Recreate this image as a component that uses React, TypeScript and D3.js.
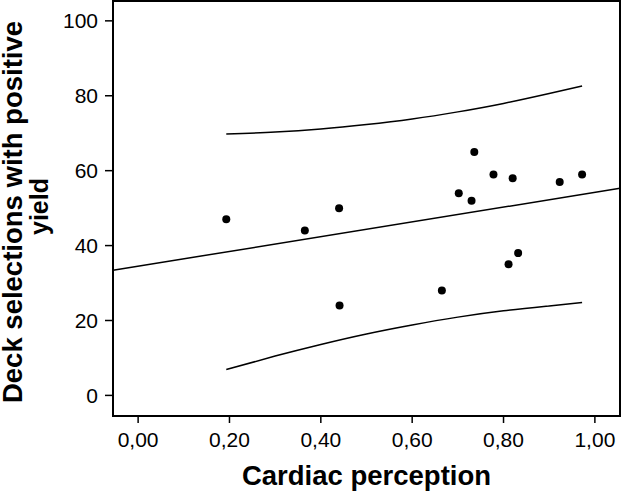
import React from "react";
import * as d3 from "d3";

const cardiac = [0.193, 0.365, 0.44, 0.441, 0.665, 0.702, 0.73, 0.736, 0.778, 0.811, 0.82, 0.832, 0.923, 0.972];
const deckSelections = [47, 44, 50, 24, 28, 54, 52, 65, 59, 35, 58, 38, 57, 59];

const fitIntercept = 34.5;
const fitSlope = 19.7;

const bandX = [0.193, 0.3, 0.4, 0.5, 0.6, 0.7, 0.8, 0.9, 0.972];
const bandUpper = [69.8, 70.3, 71.1, 72.3, 73.8, 75.7, 77.95, 80.6, 82.6];
const bandLower = [6.9, 10.5, 13.6, 16.4, 18.8, 20.9, 22.6, 23.9, 24.8];

const xTicks = [0, 0.2, 0.4, 0.6, 0.8, 1.0];
const xTickLabels = ["0,00", "0,20", "0,40", "0,60", "0,80", "1,00"];
const yTicks = [0, 20, 40, 60, 80, 100];

const xTitle = "Cardiac perception";
const yTitleLines = ["Deck selections with positive", "yield"];

const W = 622;
const H = 492;
const left = 113;
const right = 620;
const top = 1;
const bottom = 416;

export default function App() {
  const x = d3.scaleLinear().domain([-0.055, 1.055]).range([left, right]);
  const y = d3.scaleLinear().domain([-5.5, 105.3]).range([bottom, top]);
  const font = "'Liberation Sans', Arial, Helvetica, sans-serif";

  const bandLine = d3
    .line<[number, number]>()
    .x((d) => x(d[0]))
    .y((d) => y(d[1]))
    .curve(d3.curveNatural);

  const upperPath = bandLine(bandX.map((v, i) => [v, bandUpper[i]] as [number, number])) || "";
  const lowerPath = bandLine(bandX.map((v, i) => [v, bandLower[i]] as [number, number])) || "";

  const [x0, x1] = x.domain();

  return (
    <svg
      width={W}
      height={H}
      style={{ position: "absolute", left: 0, top: 0, background: "#fff" }}
      fontFamily={font}
    >
      <rect x={0} y={0} width={W} height={H} fill="#fff" />
      <rect
        x={left}
        y={top}
        width={right - left}
        height={bottom - top}
        fill="none"
        stroke="#000"
        strokeWidth={2}
      />
      {yTicks.map((t) => (
        <g key={"y" + t}>
          <line x1={left - 8} x2={left} y1={y(t)} y2={y(t)} stroke="#000" strokeWidth={1.5} />
          <text x={left - 15} y={y(t)} dy="0.36em" textAnchor="end" fontSize={21} fill="#000">
            {t}
          </text>
        </g>
      ))}
      {xTicks.map((t, i) => (
        <g key={"x" + t}>
          <line x1={x(t)} x2={x(t)} y1={bottom} y2={bottom + 7} stroke="#000" strokeWidth={1.5} />
          <text x={x(t)} y={447} textAnchor="middle" fontSize={21} fill="#000">
            {xTickLabels[i]}
          </text>
        </g>
      ))}
      <line
        x1={x(x0)}
        y1={y(fitIntercept + fitSlope * x0)}
        x2={x(x1)}
        y2={y(fitIntercept + fitSlope * x1)}
        stroke="#000"
        strokeWidth={1.5}
      />
      <path d={upperPath} fill="none" stroke="#000" strokeWidth={1.5} />
      <path d={lowerPath} fill="none" stroke="#000" strokeWidth={1.5} />
      {cardiac.map((c, i) => (
        <circle key={"p" + i} cx={x(c)} cy={y(deckSelections[i])} r={4} fill="#000" />
      ))}
      <text
        x={(left + right) / 2}
        y={485}
        textAnchor="middle"
        fontSize={27.5}
        fontWeight="bold"
        fill="#000"
      >
        {xTitle}
      </text>
      <g transform={`translate(22, 212) rotate(-90)`}>
        <text x={0} y={0} textAnchor="middle" fontSize={27.5} fontWeight="bold" fill="#000">
          {yTitleLines[0]}
        </text>
        <text x={5.5} y={26} textAnchor="middle" fontSize={25} fontWeight="bold" fill="#000">
          {yTitleLines[1]}
        </text>
      </g>
    </svg>
  );
}
